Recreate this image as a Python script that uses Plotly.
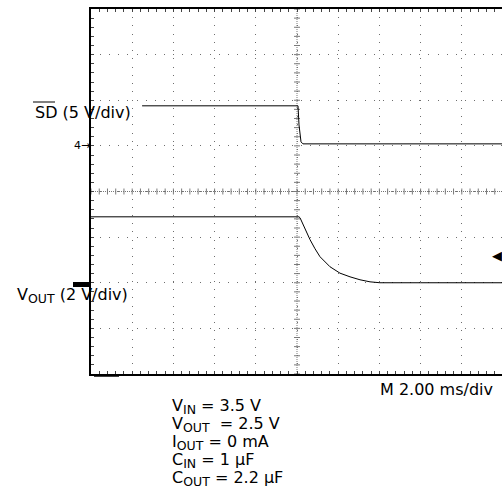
import numpy as np
import plotly.graph_objects as go

W, H = 502, 497

# ---- data (time in ms, voltage in V) ----
sd_t = [-7.52, -6.0, -4.0, -2.0, 0.049, 0.097, 0.146, 0.194, 0.291, 2.0, 5.0, 9.95]
sd_v = [4.39, 4.39, 4.39, 4.39, 4.39, 2.30, 0.88, 0.44, 0.22, 0.22, 0.22, 0.22]

vout_t = [-10.0, -6.0, -2.0, 0.097, 0.146, 0.388, 0.631, 0.874, 1.117, 1.602,
          2.087, 2.573, 3.058, 3.544, 4.029, 6.0, 9.95]
vout_v = [2.89, 2.89, 2.89, 2.89, 2.85, 2.37, 1.89, 1.49, 1.14, 0.70,
          0.42, 0.26, 0.13, 0.04, 0.0, 0.0, 0.0]

# scope channel settings (V/div, ground position in divisions)
sd_scale, sd_gnd = 5.0, 1.0
vout_scale, vout_gnd = 2.0, -2.0

SUB = "<sub><span style='font-size:12.5px'>{}</span></sub>"
cond_lines = [
    "V" + SUB.format("IN") + " = 3.5 V",
    "V" + SUB.format("OUT") + " \u00a0= 2.5 V",
    "I" + SUB.format("OUT") + " = 0 mA",
    "C" + SUB.format("IN") + " = 1 \u00b5F",
    "C" + SUB.format("OUT") + " = 2.2 \u00b5F",
]

FONT = "DejaVu Sans"

def px_x(x):
    return x / W

def px_y(y):
    return 1 - y / H

sd_div = [sd_gnd + v / sd_scale for v in sd_v]
vout_div = [vout_gnd + v / vout_scale for v in vout_v]

fig = go.Figure()
fig.add_trace(go.Scatter(x=sd_t, y=sd_div, mode="lines",
                         line=dict(color="black", width=1), hoverinfo="skip"))
fig.add_trace(go.Scatter(x=vout_t, y=vout_div, mode="lines",
                         line=dict(color="black", width=1), hoverinfo="skip"))

x_lo = -10.0
x_hi = -10.0 + (W - 91) / 41.2 * 2.0

fig.update_layout(
    width=W, height=H,
    margin=dict(l=0, r=0, t=0, b=0),
    paper_bgcolor="white", plot_bgcolor="white",
    showlegend=False,
    xaxis=dict(domain=[91 / W, 1.0], range=[x_lo, x_hi], tick0=0, dtick=2,
               showgrid=True, gridcolor="#6e6e6e", griddash="1px,7.24px", gridwidth=1,
               zeroline=False, showticklabels=False,
               showline=True, linecolor="black", linewidth=1.6, mirror="ticks",
               ticks="inside", ticklen=3, tickcolor="#444",
               minor=dict(dtick=0.4, tick0=0, ticks="inside", ticklen=3,
                          tickcolor="#444", showgrid=False)),
    yaxis=dict(domain=[px_y(374), px_y(9)], range=[-4, 4], tick0=0, dtick=1,
               showgrid=True, gridcolor="#6e6e6e", griddash="1px,8.12px", gridwidth=1,
               zeroline=False, showticklabels=False,
               showline=True, linecolor="black", linewidth=1.6, mirror=False,
               ticks="inside", ticklen=3, tickcolor="#444",
               minor=dict(dtick=0.2, tick0=0, ticks="inside", ticklen=3,
                          tickcolor="#444", showgrid=False)),
)

shapes = []
# center cross lines
shapes.append(dict(type="line", xref="x", yref="y", x0=x_lo, x1=10, y0=0, y1=0,
                   line=dict(color="#7a7a7a", width=1, dash="1px,1px"), layer="below"))
shapes.append(dict(type="line", xref="x", yref="y", x0=0, x1=0, y0=-4, y1=4,
                   line=dict(color="#7a7a7a", width=1, dash="1px,1px"), layer="below"))
for t in np.arange(-10, 10.01, 0.4):
    shapes.append(dict(type="line", xref="x", yref="y", x0=t, x1=t,
                       ysizemode="pixel", yanchor=0, y0=-3, y1=3,
                       line=dict(color="#7a7a7a", width=1), layer="below"))
for v in np.arange(-4, 4.01, 0.2):
    shapes.append(dict(type="line", xref="x", yref="y", y0=v, y1=v,
                       xsizemode="pixel", xanchor=0, x0=-3, x1=3,
                       line=dict(color="#7a7a7a", width=1), layer="below"))
# overline on SD
shapes.append(dict(type="line", xref="paper", yref="paper",
                   x0=px_x(33), x1=px_x(55), y0=px_y(102), y1=px_y(102),
                   line=dict(color="black", width=1)))
# channel 1 ground marker
shapes.append(dict(type="rect", xref="paper", yref="paper",
                   x0=px_x(73), x1=px_x(91), y0=px_y(287), y1=px_y(282),
                   fillcolor="black", line=dict(width=0)))
# trigger position marker at bottom
shapes.append(dict(type="line", xref="paper", yref="paper",
                   x0=px_x(94), x1=px_x(119), y0=px_y(376), y1=px_y(376),
                   line=dict(color="black", width=1.5)))
fig.update_layout(shapes=shapes)

ann = []
def add_text(text, x, y, size=16, xanchor="left"):
    ann.append(dict(text=text, xref="paper", yref="paper", x=px_x(x), y=px_y(y),
                    xanchor=xanchor, yanchor="middle", showarrow=False,
                    font=dict(family=FONT, size=size, color="black")))

add_text("SD (5 V/div)", 33, 112)
add_text("4\u2192", 72, 145, size=11)
add_text("V" + SUB.format("OUT") + " (2 V/div)", 15, 295)
add_text("M 2.00 ms/div", 378, 389)
cond_y = [406, 424, 442, 460, 478]
for txt, yy in zip(cond_lines, cond_y):
    add_text(txt, 170, yy)
add_text("\u25c0", 504, 255, size=13, xanchor="right")
fig.update_layout(annotations=ann)

fig.write_html("out.html", config={"displayModeBar": False},
               post_script="document.body.style.margin='0';document.body.style.overflow='hidden';")
